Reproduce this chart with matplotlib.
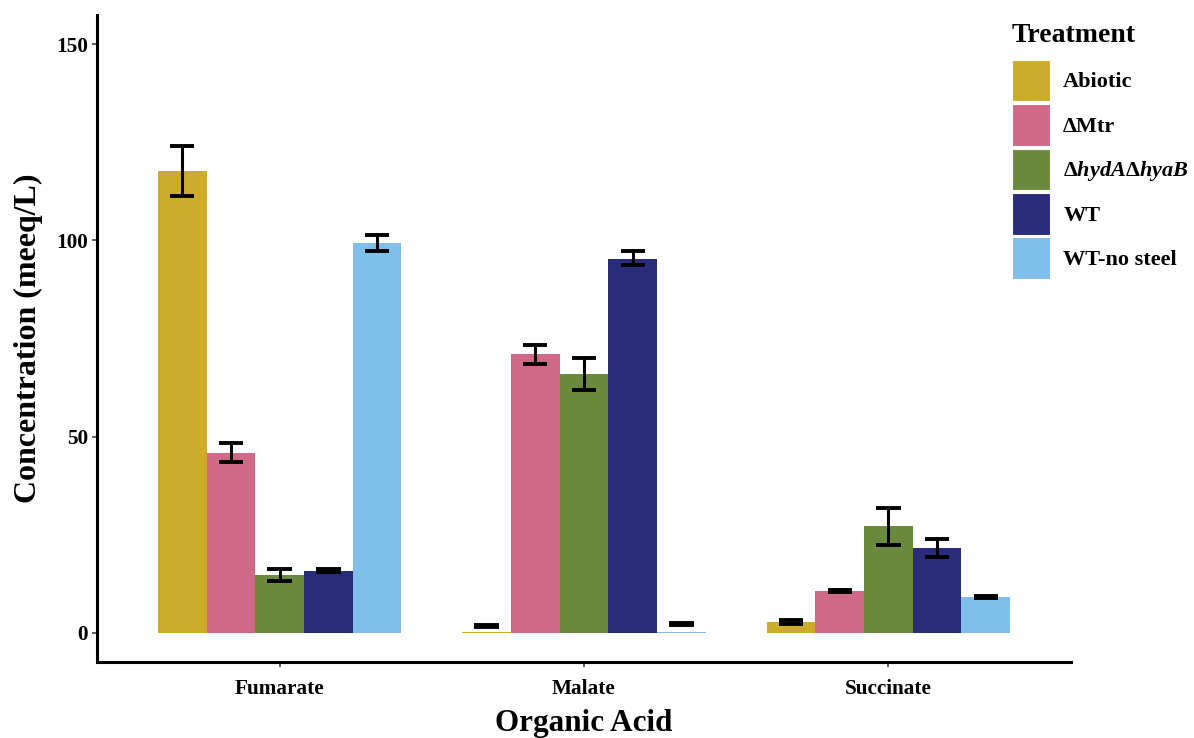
import matplotlib
matplotlib.use("Agg")
import matplotlib.pyplot as plt
from matplotlib.patches import Patch
import numpy as np

plt.rcParams['font.family'] = ['Liberation Serif', 'DejaVu Serif']
plt.rcParams['font.weight'] = 'bold'
plt.rcParams['mathtext.fontset'] = 'custom'
plt.rcParams['mathtext.rm'] = 'Liberation Serif:bold'
plt.rcParams['mathtext.it'] = 'Liberation Serif:italic:bold'
plt.rcParams['mathtext.bf'] = 'Liberation Serif:bold'

acids = ["Fumarate", "Malate", "Succinate"]
treatments = ["Abiotic", "ΔMtr", r"Δ$\mathit{hydA}$Δ$\mathit{hyaB}$", "WT", "WT-no steel"]
colors = ["#CDAC2C", "#CF6987", "#6B8A3E", "#282C7A", "#80BFEA"]

# mean concentration per treatment for each acid
abiotic = [117.6, 0.3, 2.8]
dmtr = [45.8, 71.0, 10.7]
dhyd = [14.8, 66.0, 27.2]
wt = [15.8, 95.2, 21.6]
wt_nosteel = [99.3, 0.3, 9.2]

# error bar lower / upper bounds
abiotic_lo = [111.3, 1.5, 2.4]
abiotic_hi = [124.0, 1.9, 3.2]
dmtr_lo = [43.5, 68.5, 10.4]
dmtr_hi = [48.4, 73.3, 11.0]
dhyd_lo = [13.3, 61.9, 22.4]
dhyd_hi = [16.3, 70.0, 31.8]
wt_lo = [15.4, 93.7, 19.4]
wt_hi = [16.2, 97.3, 23.9]
wt_nosteel_lo = [97.3, 2.1, 8.9]
wt_nosteel_hi = [101.3, 2.5, 9.5]

means = [abiotic, dmtr, dhyd, wt, wt_nosteel]
lows = [abiotic_lo, dmtr_lo, dhyd_lo, wt_lo, wt_nosteel_lo]
highs = [abiotic_hi, dmtr_hi, dhyd_hi, wt_hi, wt_nosteel_hi]

yticks = [0, 50, 100, 150]

fig = plt.figure(figsize=(11.94, 7.38), dpi=100)
ax = fig.add_axes([97/1194, 1-662/738, (1071-97)/1194, (662-15)/738])

x = np.arange(1, len(acids) + 1)
n = len(treatments)
bw = 0.8 / n
for i in range(n):
    pos = x - 0.4 + bw * (i + 0.5)
    m = np.array(means[i])
    lo = np.array(lows[i])
    hi = np.array(highs[i])
    ax.bar(pos, m, width=bw, color=colors[i], edgecolor='none', zorder=2)
    ax.vlines(pos, lo, hi, color='black', lw=2.2, zorder=3)
    ax.hlines(lo, pos - bw/4, pos + bw/4, color='black', lw=2.8, zorder=3)
    ax.hlines(hi, pos - bw/4, pos + bw/4, color='black', lw=2.8, zorder=3)

ax.set_xlim(0.4, 3.6)
ax.set_ylim(-7.4, 157.4)
ax.set_xticks(x)
ax.set_xticklabels(acids, fontsize=15.3, fontweight='bold')
ax.set_yticks(yticks)
ax.set_yticklabels([str(t) for t in yticks], fontsize=15.3, fontweight='bold')
ax.tick_params(axis='x', length=3.6, width=1.1, color='#333333', pad=9)
ax.tick_params(axis='y', length=3.6, width=1.1, color='#333333', pad=3)
for s in ['top', 'right']:
    ax.spines[s].set_visible(False)
for s in ['left', 'bottom']:
    ax.spines[s].set_linewidth(2.2)
ax.set_xlabel("Organic Acid", fontsize=22.4, fontweight='bold', labelpad=7)
ax.set_ylabel("Concentration (meeq/L)", fontsize=23, fontweight='bold', labelpad=9)

handles = [Patch(facecolor=c, edgecolor='white', linewidth=0.8) for c in colors]
leg = fig.legend(handles, treatments, loc='upper left', bbox_to_anchor=(1003/1194, 1-14/738),
                 frameon=False, fontsize=16, title="Treatment",
                 title_fontproperties={'size': 20, 'weight': 'bold'},
                 handlelength=1.71, handleheight=2.5, labelspacing=0.13,
                 handletextpad=0.6, borderaxespad=0, alignment='left')
leg._legend_box.sep = 8.5

fig.savefig("out.png", dpi=100)
